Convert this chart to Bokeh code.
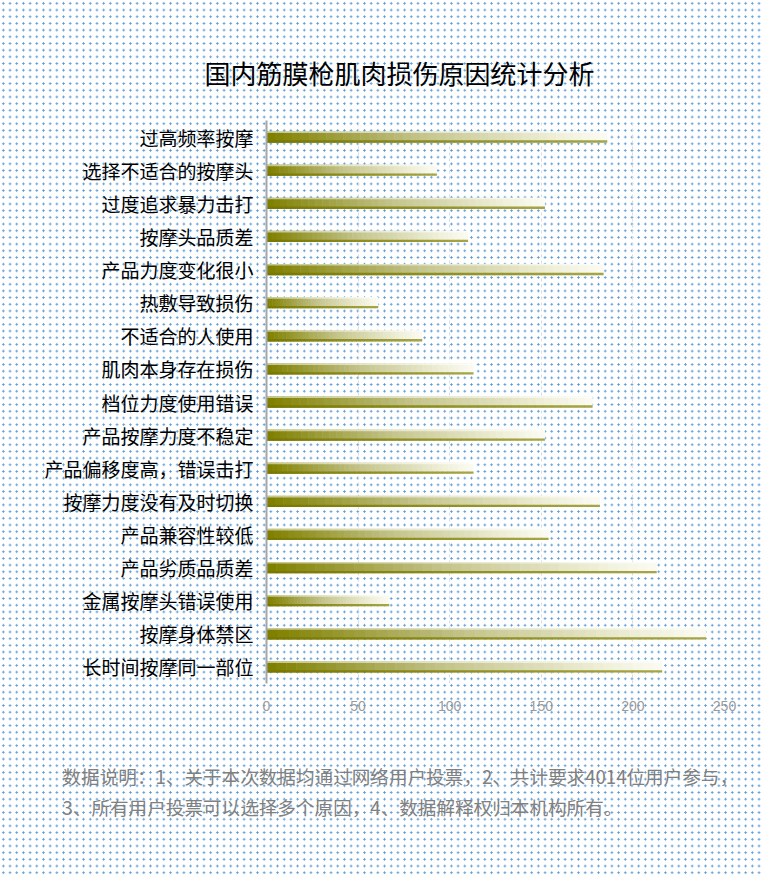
from bokeh.plotting import figure
from bokeh.models import FactorRange, Range1d, ColumnDataSource, Title, FixedTicker
from bokeh.transform import dodge
from bokeh.embed import file_html
from bokeh.resources import INLINE

title_text = "国内筋膜枪肌肉损伤原因统计分析"
categories = ["过高频率按摩", "选择不适合的按摩头", "过度追求暴力击打", "按摩头品质差",
              "产品力度变化很小", "热敷导致损伤", "不适合的人使用", "肌肉本身存在损伤",
              "档位力度使用错误", "产品按摩力度不稳定", "产品偏移度高，错误击打",
              "按摩力度没有及时切换", "产品兼容性较低", "产品劣质品质差",
              "金属按摩头错误使用", "按摩身体禁区", "长时间按摩同一部位"]
values = [186, 93, 152, 110, 184, 61, 85, 113, 178, 152, 113, 182, 154, 213, 67, 240, 216]
x_ticks = [0, 50, 100, 150, 200, 250]
notes = ["数据说明：1、关于本次数据均通过网络用户投票，2、共计要求4014位用户参与，",
         "3、所有用户投票可以选择多个原因，4、数据解释权归本机构所有。"]

FONT = "Noto Sans CJK SC"
N = 40
MAIN_STOPS = [(0.0, (128, 128, 0)), (0.45, (196, 196, 140)), (0.85, (238, 238, 215)), (1.0, (250, 250, 242))]
EDGE_STOPS = [(0.0, (120, 120, 0)), (1.0, (165, 165, 70))]


def grad(t, stops):
    for (t0, c0), (t1, c1) in zip(stops[:-1], stops[1:]):
        if t <= t1:
            f = (t - t0) / (t1 - t0) if t1 > t0 else 0
            return "#%02x%02x%02x" % tuple(int(round(a + (b - a) * f)) for a, b in zip(c0, c1))
    return "#%02x%02x%02x" % stops[-1][1]


ys, lefts, rights, cols, ecols = [], [], [], [], []
for cat, v in zip(categories, values):
    for k in range(N):
        ys.append(cat)
        lefts.append(v * k / N)
        rights.append(v * (k + 1) / N + (0.3 if k < N - 1 else 0))
        t = k / (N - 1)
        cols.append(grad(t, MAIN_STOPS))
        ecols.append(grad(t, EDGE_STOPS))
src = ColumnDataSource(dict(y=ys, left=lefts, right=rights, c=cols, e=ecols))
top_src = ColumnDataSource(dict(y=categories, left=[0] * len(values), right=values))

p = figure(width=764, height=874,
           y_range=FactorRange(*reversed(categories)), x_range=Range1d(0, 250),
           output_backend="svg", toolbar_location=None,
           min_border_left=266, min_border_right=40, min_border_top=120, min_border_bottom=191)

p.background_fill_color = None
p.border_fill_color = None
p.outline_line_color = None
p.styles = {
    "background-color": "white",
    "background-image": "radial-gradient(circle at center, #5b9bd5 0px, #5b9bd5 0.9px, rgba(255,255,255,0) 1.3px)",
    "background-size": "6.7px 6.7px",
    "background-position": "0px 0px",
}

bh = 0.34
p.hbar(y="y", left="left", right="right", height=bh, fill_color="c", line_color=None, source=src)
p.hbar(y=dodge("y", -bh / 2 + 0.035, range=p.y_range), left="left", right="right", height=0.07,
       fill_color="e", line_color=None, source=src)
p.hbar(y=dodge("y", bh / 2 - 0.025, range=p.y_range), left="left", right="right", height=0.05,
       fill_color="white", fill_alpha=0.55, line_color=None, source=top_src)

p.xgrid.grid_line_color = "#d5dee8"
p.xgrid.grid_line_dash = "3 3"
p.ygrid.grid_line_color = None

p.xaxis.ticker = FixedTicker(ticks=x_ticks)
p.xaxis.axis_line_color = None
p.xaxis.major_tick_line_color = None
p.xaxis.minor_tick_line_color = None
p.xaxis.major_label_text_color = "#9a9a9a"
p.xaxis.major_label_text_font_size = "14px"
p.xaxis.major_label_text_font = "Liberation Sans"
p.xaxis.major_label_standoff = 11

p.yaxis.axis_line_color = "#a6a6a6"
p.yaxis.axis_line_width = 2
p.yaxis.major_tick_line_color = None
p.yaxis.minor_tick_line_color = None
p.yaxis.major_label_text_font = FONT
p.yaxis.major_label_text_font_size = "19px"
p.yaxis.major_label_text_color = "#000000"
p.yaxis.major_label_standoff = 7

p.add_layout(Title(text=title_text, align="left", offset=-62, standoff=59,
                   text_font=FONT, text_font_size="26px", text_font_style="normal",
                   text_color="#000000"), "above")
p.add_layout(Title(text="\n".join(notes), align="left", offset=-204, standoff=94,
                   text_font=FONT, text_font_size="18.6px", text_font_style="normal",
                   text_line_height=1.15, text_color="#808080"), "below")

open("out.html", "w").write(file_html(p, INLINE))
